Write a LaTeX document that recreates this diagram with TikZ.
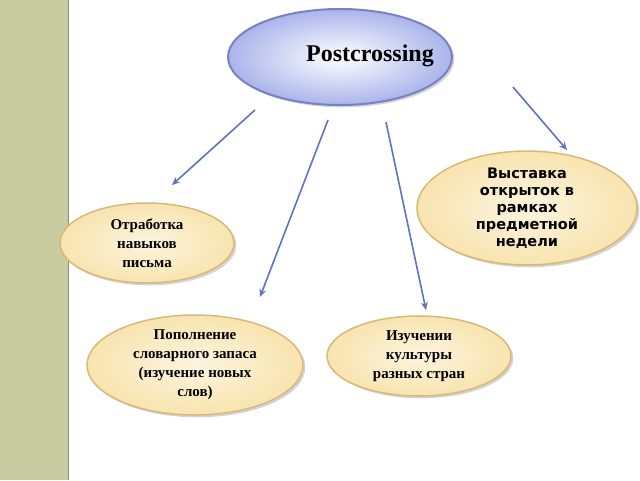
\documentclass[tikz,border=0pt]{standalone}
\usepackage{fontspec}
\setmainfont{Liberation Serif}
\newfontfamily\dvs{DejaVu Sans}
\usetikzlibrary{arrows.meta,shadows,shapes.geometric}
\definecolor{stripe}{RGB}{200,204,160}
\definecolor{topfill}{RGB}{170,180,235}
\definecolor{topedge}{RGB}{120,130,190}
\definecolor{leaf}{RGB}{248,228,175}
\definecolor{leafedge}{RGB}{215,185,120}
\definecolor{arr}{RGB}{95,115,190}
\tikzset{
  topic/.style={ellipse, draw=topedge, line width=2pt, inner color=white, outer color=topfill,
    minimum width=224pt, minimum height=96pt, inner sep=0pt, drop shadow={opacity=0.35}, font=\bfseries\fontsize{24}{26}\selectfont},
  leafnode/.style={ellipse, draw=leafedge, line width=1.5pt, inner color=leaf!40, outer color=leaf,
    drop shadow={opacity=0.35}, align=center, font=\bfseries\fontsize{15}{19}\selectfont},
  link/.style={draw=arr, line width=1.6pt, -{Stealth[length=8pt,width=7pt,open]}}
}
\begin{document}
\begin{tikzpicture}[x=1pt,y=-1pt]
	% frame
	\useasboundingbox (0,0) rectangle (640,480);
	\fill[stripe] (0,0) rectangle (68,480);
	\draw[stripe!70!black, line width=1pt] (68,0) -- (68,480);

	% nodes
	\node[topic] (post) at (340,57) {\makebox[0pt]{\hspace*{60pt}Postcrossing}\rule[-8pt]{0pt}{1pt}};
	\node[leafnode, minimum width=220pt, minimum height=94pt, inner sep=0pt, font=\dvs\bfseries\fontsize{14.5}{17}\selectfont] (show) at (527,208) {Выставка\\открыток в\\рамках\\предметной\\недели};
	\node[leafnode, minimum width=174pt, minimum height=80pt, inner sep=0pt] (write) at (147,243) {Отработка\\навыков\\письма};
	\node[leafnode, minimum width=216pt, minimum height=100pt, inner sep=0pt] (words) at (195,365) {Пополнение\\словарного запаса\\(изучение новых\\слов)};
	\node[leafnode, minimum width=184pt, minimum height=80pt, inner sep=0pt] (culture) at (419,356) {Изучении\\культуры\\разных стран};

	% connectors
	\coordinate (a1) at (255,110);
	\coordinate (a2) at (328,120);
	\coordinate (a3) at (386,122);
	\coordinate (a4) at (513,87);
	\coordinate (b1) at (172,185);
	\coordinate (b2) at (260,297);
	\coordinate (b3) at (426,310);
	\coordinate (b4) at (567,150);
	\draw[link] (a1) -- (b1);
	\draw[link] (a2) -- (b2);
	\draw[link] (a3) -- (b3);
	\draw[link] (a4) -- (b4);
\end{tikzpicture}
\end{document}
